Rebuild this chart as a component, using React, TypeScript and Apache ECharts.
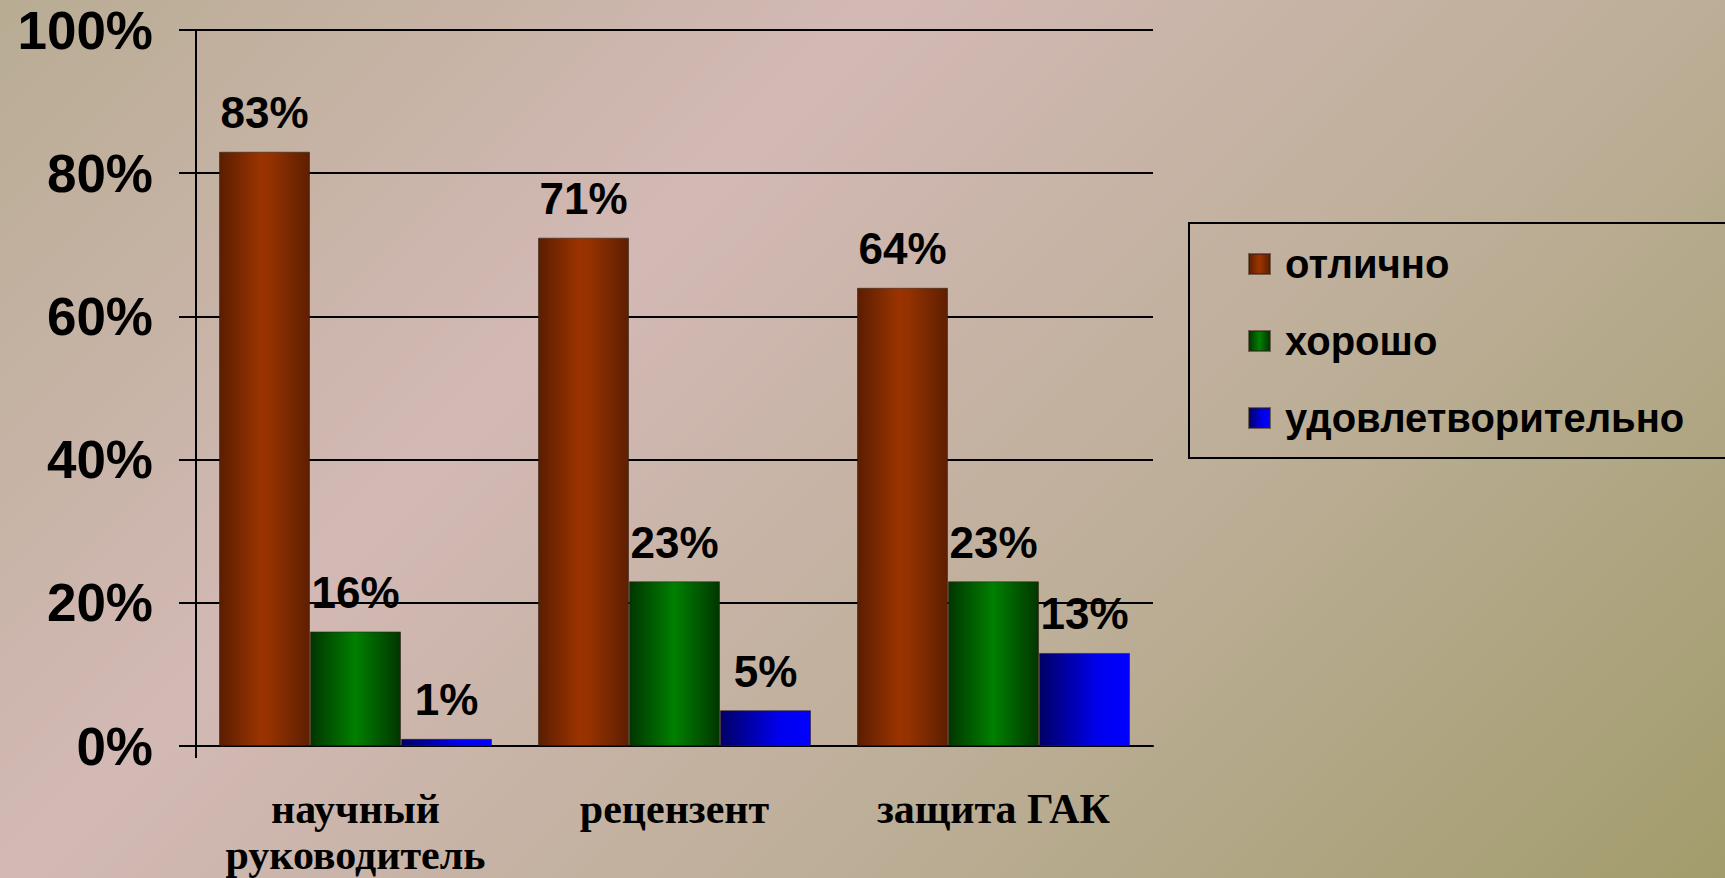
import React, { useEffect, useRef } from "react";
import * as echarts from "echarts";

const categories = ["научный\nруководитель", "рецензент", "защита ГАК"];
const seriesNames = ["отлично", "хорошо", "удовлетворительно"];
const excellent = [83, 71, 64];
const good = [16, 23, 23];
const satisfactory = [1, 5, 13];
const yTicks = [0, 20, 40, 60, 80, 100];

const SANS = "'Liberation Sans', Arial, sans-serif";
const SERIF = "'Liberation Serif', 'Times New Roman', serif";

export default function App() {
  const ref = useRef<HTMLDivElement>(null);

  useEffect(() => {
    if (!ref.current) return;
    const chart = echarts.init(ref.current, null, { renderer: "svg" });

    const grad = (stops: [number, string][]) =>
      new echarts.graphic.LinearGradient(
        0,
        0,
        1,
        0,
        stops.map(([offset, color]) => ({ offset, color }))
      );

    const colors = [
      grad([
        [0, "#5a1e00"],
        [0.45, "#9a3300"],
        [0.55, "#963200"],
        [1, "#5e1f00"],
      ]),
      grad([
        [0, "#003600"],
        [0.5, "#008000"],
        [1, "#003600"],
      ]),
      grad([
        [0, "#000066"],
        [0.65, "#0000ee"],
        [1, "#0000ff"],
      ]),
    ];

    const data = [excellent, good, satisfactory];

    const series = seriesNames.map((name, i) => ({
      name,
      type: "bar",
      data: data[i],
      barWidth: 91,
      barGap: "0%",
      itemStyle: {
        color: colors[i],
        borderColor: "rgba(50,30,20,0.55)",
        borderWidth: 1,
      },
      label: {
        show: true,
        position: "top",
        distance: 17,
        formatter: "{c}%",
        fontFamily: SANS,
        fontWeight: "bold",
        fontSize: 44,
        color: "#000",
      },
    }));

    const gridLeft = 196;

    chart.setOption({
      animation: false,
      backgroundColor: "transparent",
      grid: { left: gridLeft, right: 572, top: 30, bottom: 128, containLabel: false },
      legend: {
        data: seriesNames,
        orient: "vertical",
        left: 1189,
        top: 223,
        padding: [21, 150, 20, 59],
        itemWidth: 21,
        itemHeight: 20,
        itemGap: 37,
        icon: "rect",
        borderColor: "#000",
        borderWidth: 2,
        textStyle: {
          fontFamily: SANS,
          fontWeight: "bold",
          fontSize: 40,
          lineHeight: 40,
          color: "#000",
          padding: [0, 0, 0, 10],
        },
      },
      xAxis: {
        type: "category",
        data: categories,
        axisLine: { show: true, lineStyle: { color: "#000", width: 2 } },
        axisTick: { show: false },
        axisLabel: {
          fontFamily: SERIF,
          fontWeight: "bold",
          fontSize: 42,
          lineHeight: 46,
          color: "#000",
          margin: 40,
          interval: 0,
        },
      },
      yAxis: {
        type: "value",
        min: yTicks[0],
        max: yTicks[yTicks.length - 1],
        interval: 20,
        axisLine: { show: true, lineStyle: { color: "#000", width: 2 } },
        axisTick: { show: true, length: 17, lineStyle: { color: "#000", width: 2 } },
        splitLine: { show: true, lineStyle: { color: "#000", width: 2 } },
        axisLabel: {
          formatter: "{value}%",
          fontFamily: SANS,
          fontWeight: "bold",
          fontSize: 53,
          color: "#000",
          margin: 43,
          padding: [14, 0, 0, 0],
        },
      },
      series,
    });

    const y0 = chart.convertToPixel({ yAxisIndex: 0 }, 0) as number;
    chart.setOption({
      graphic: [
        {
          type: "line",
          shape: { x1: gridLeft, y1: y0, x2: gridLeft, y2: y0 + 12 },
          style: { stroke: "#000", lineWidth: 2 },
        },
      ],
    });

    return () => chart.dispose();
  }, []);

  return (
    <div
      ref={ref}
      style={{
        position: "fixed",
        left: 0,
        top: 0,
        width: 1725,
        height: 878,
        background:
          "linear-gradient(135deg, #b8ac93 0%, #d3b9b5 34%, #bcae97 66%, #a29c6c 100%)",
      }}
    />
  );
}
